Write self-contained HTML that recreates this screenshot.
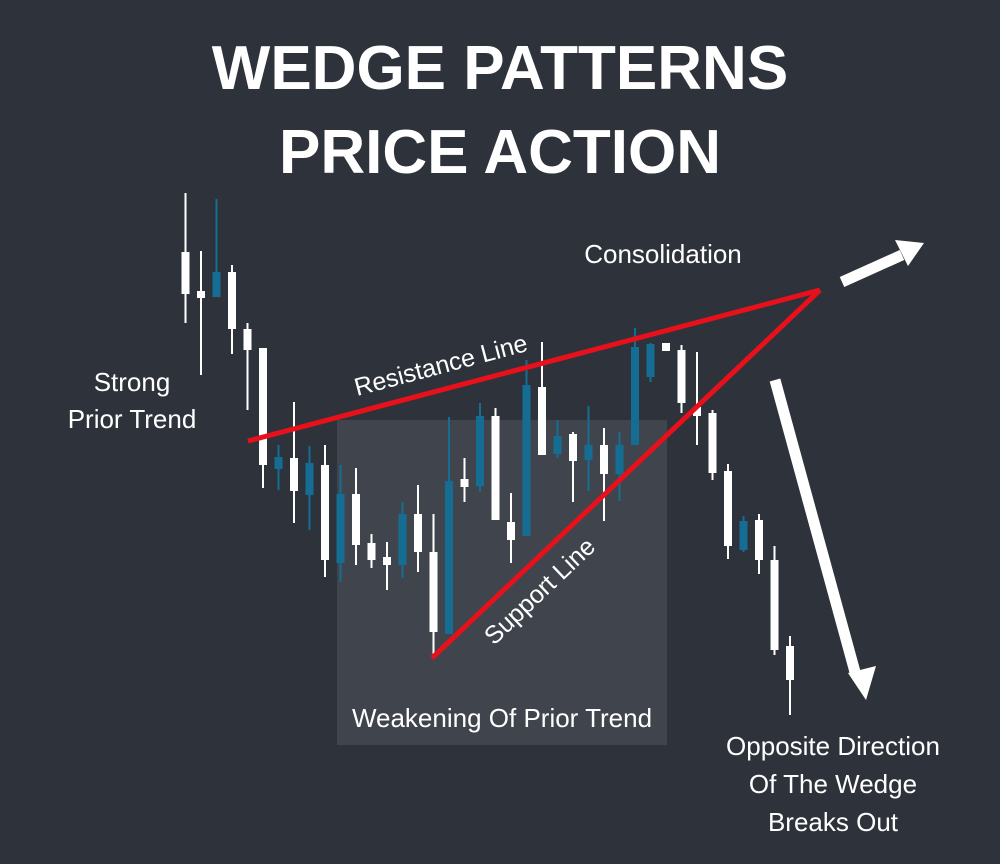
<!DOCTYPE html>
<html><head><meta charset="utf-8"><style>
html,body{margin:0;padding:0;background:#2e333b;}
svg{display:block;}
text{font-family:"Liberation Sans",sans-serif;fill:#fff;}
</style></head><body>
<svg id="chart" width="1000" height="864" viewBox="0 0 1000 864">
<rect x="0" y="0" width="1000" height="864" fill="#2e333b"/>
<rect x="337" y="420" width="330" height="325" fill="#40454d"/>
<text x="500" y="89" font-size="62" font-weight="bold" text-anchor="middle">WEDGE PATTERNS</text>
<text x="500" y="173" font-size="62" font-weight="bold" text-anchor="middle">PRICE ACTION</text>
<g id="candles"></g>
<line x1="248" y1="441" x2="820" y2="290" stroke="#e8101b" stroke-width="5"/>
<line x1="432" y1="658" x2="820" y2="290" stroke="#e8101b" stroke-width="5"/>
<text x="0" y="0" font-size="25" transform="translate(357,396) rotate(-14.8)">Resistance Line</text>
<text x="0" y="0" font-size="25" transform="translate(494,646) rotate(-43.5)">Support Line</text>
<g>
<line x1="842" y1="282" x2="902" y2="255" stroke="#fff" stroke-width="11"/>
<polygon points="924,243 895,240 908,266" fill="#fff"/>
</g>
<g>
<line x1="775" y1="380" x2="855" y2="672" stroke="#fff" stroke-width="11"/>
<polygon points="866,700 848,673 876,666" fill="#fff"/>
</g>
<text x="663" y="263" font-size="26" text-anchor="middle">Consolidation</text>
<text x="132" y="391" font-size="26" text-anchor="middle">Strong</text>
<text x="132" y="428" font-size="26" text-anchor="middle">Prior Trend</text>
<text x="502" y="727" font-size="26" text-anchor="middle">Weakening Of Prior Trend</text>
<text x="833" y="755" font-size="26" text-anchor="middle">Opposite Direction</text>
<text x="833" y="793" font-size="26" text-anchor="middle">Of The Wedge</text>
<text x="833" y="831" font-size="26" text-anchor="middle">Breaks Out</text>
</svg>
<script>
// values = price units (higher = up); index = candle number
const highs  = [527,469,521,455,397,372,275,318,274,275,255,252,186,178,218,235,206,303,262,317,312,227,360,378,300,288,314,292,288,392,377,377,375,368,310,256,204,206,174,84];
const lows   = [397,345,423,366,310,232,230,197,190,143,138,155,152,130,142,148,63,86,218,228,200,157,184,265,262,218,229,199,219,275,338,369,307,275,240,161,168,146,65,5];
const opens  = [468,429,423,448,391,372,251,262,225,255,157,226,177,163,155,206,168,86,241,234,304,198,184,333,266,286,260,275,246,275,343,377,370,313,307,249,170,200,160,74];
const closes = [426,422,448,391,370,255,263,229,257,160,226,175,160,155,206,168,88,239,233,304,200,180,335,265,284,259,275,246,275,373,376,369,317,304,247,174,199,160,70,40];
const cx0 = 185.5, step = 15.5;
function xScale(i){ return cx0 + i*step; }
function yScale(v){ return 720 - v; }
const g = document.getElementById('candles');
const NS = 'http://www.w3.org/2000/svg';
for (let i = 0; i < highs.length; i++) {
  const up = closes[i] > opens[i];
  const col = up ? '#166d94' : '#ffffff';
  const x = xScale(i);
  const w = document.createElementNS(NS,'rect');
  w.setAttribute('x', x-1); w.setAttribute('width', 2);
  w.setAttribute('y', yScale(highs[i])); w.setAttribute('height', yScale(lows[i]) - yScale(highs[i]));
  w.setAttribute('fill', col);
  
  
  g.appendChild(w);
  const top = Math.max(opens[i], closes[i]), bot = Math.min(opens[i], closes[i]);
  const b = document.createElementNS(NS,'rect');
  b.setAttribute('x', x-4); b.setAttribute('width', 8);
  b.setAttribute('y', yScale(top)); b.setAttribute('height', Math.max(4, yScale(bot) - yScale(top)));
  b.setAttribute('fill', col);
  
  
  g.appendChild(b);
}
</script>
</body></html>
